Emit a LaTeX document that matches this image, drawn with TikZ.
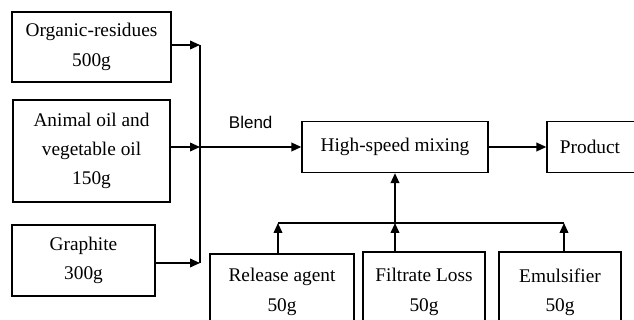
\documentclass[tikz,border=0pt]{standalone}
\usepackage{fontspec}
\setmainfont{Liberation Serif}
\setsansfont{Liberation Sans}
\usetikzlibrary{arrows.meta}
\begin{document}
\begin{tikzpicture}[x=0.03cm,y=-0.03cm,
  stepbox/.style={draw, line width=1.1pt, align=center, inner sep=0pt,
    font=\fontsize{16.5}{25}\selectfont},
  flow/.style={line width=1.4pt, -{Triangle[length=3mm,width=2.6mm]}},
  bar/.style={line width=1.4pt}]
\useasboundingbox (0,0) rectangle (634,320);

\node[stepbox, minimum width=159*0.03cm, minimum height=70*0.03cm] (org) at (91.5,47) {Organic-residues\\500g};
\node[stepbox, minimum width=157*0.03cm, minimum height=102*0.03cm] (oil) at (91.5,151) {Animal oil and\\vegetable oil\\150g};
\node[stepbox, minimum width=143*0.03cm, minimum height=71*0.03cm] (gra) at (83.5,260.5) {Graphite\\300g};

\node[stepbox, minimum width=186*0.03cm, minimum height=51*0.03cm] (mix) at (395,147) {High-speed mixing};
\node[stepbox, minimum width=100*0.03cm, minimum height=51*0.03cm] (prod) at (597,147) {Product\hspace*{12pt}};

\node[stepbox, minimum width=144*0.03cm, minimum height=76*0.03cm] (rel) at (282,292) {Release agent\\50g};
\node[stepbox, minimum width=122*0.03cm, minimum height=80*0.03cm] (fil) at (424,292) {Filtrate Loss\\50g};
\node[stepbox, minimum width=122*0.03cm, minimum height=80*0.03cm] (emu) at (560,292) {Emulsifier\\50g};

% collecting line on the left
\coordinate (jtop) at (200,45);
\coordinate (jmid) at (200,147);
\coordinate (jbot) at (200,263);
\draw[bar] (jtop) -- (jbot);
\draw[flow] (org.east |- jtop) -- (jtop);
\draw[flow] (oil.east |- jmid) -- (jmid);
\draw[flow] (gra.east |- jbot) -- (jbot);
\draw[flow] (jmid) -- (mix.west) node[midway, above=12pt, font=\sffamily\fontsize{14.5}{16}\selectfont] {Blend};
\draw[flow] (mix.east) -- (prod.west);

% additives
\coordinate (bl) at (278,223);
\coordinate (bm) at (mix.south |- bl);
\coordinate (br) at (564,223);
\draw[bar] (bl) -- (br);
\draw[flow] (rel.north -| bl) -- (bl);
\draw[flow] (fil.north -| bm) -- (bm);
\draw[flow] (emu.north -| br) -- (br);
\draw[flow] (bm) -- (mix.south);
\end{tikzpicture}
\end{document}
